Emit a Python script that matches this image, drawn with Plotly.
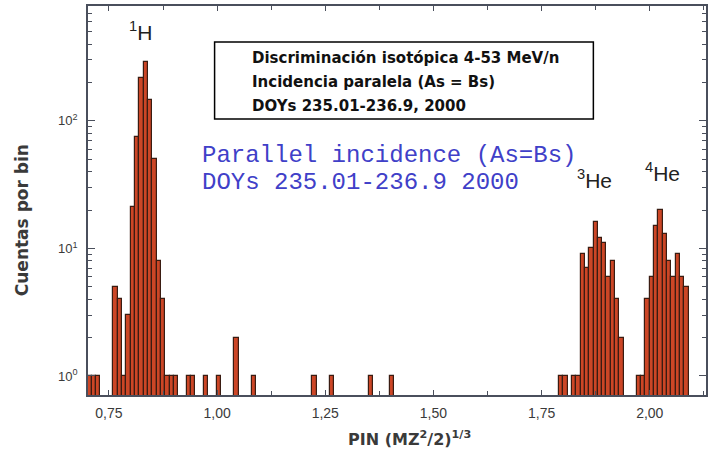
import plotly.graph_objects as go

# ---- data (bin left edges in PIN units, counts per bin) ----
bin_width = 0.01
bin_start = [0.70, 0.71, 0.72,
             0.76, 0.77, 0.78, 0.79, 0.80, 0.81, 0.82, 0.83, 0.84, 0.85, 0.86, 0.87,
             0.88, 0.89, 0.90, 0.93, 0.94, 0.97, 1.00, 1.04, 1.08,
             1.22, 1.26, 1.35, 1.40,
             1.79, 1.80, 1.82, 1.83,
             1.84, 1.85, 1.86, 1.87, 1.88, 1.89, 1.90, 1.91, 1.92, 1.93,
             1.97, 1.98,
             1.99, 2.00, 2.01, 2.02, 2.03, 2.04, 2.05, 2.06, 2.07, 2.08]
counts = [1, 1, 1,
          5, 4, 1, 3, 21, 75, 218, 290, 146, 50, 8, 4,
          1, 1, 1, 1, 1, 1, 1, 2, 1,
          1, 1, 1, 1,
          1, 1, 1, 1,
          9, 7, 10, 16, 12, 11, 6, 8, 4, 2,
          1, 1,
          4, 6, 15, 20, 13, 8, 6, 9, 6, 5]

x_tick_vals = [0.75, 1.00, 1.25, 1.50, 1.75, 2.00]
x_tick_text = ["0,75", "1,00", "1,25", "1,50", "1,75", "2,00"]
x_minor_vals = [0.875, 1.125, 1.375, 1.625, 1.875, 2.125]
y_tick_vals = [1, 10, 100]
y_tick_text = ["10<sup>0</sup>", "10<sup>1</sup>", "10<sup>2</sup>"]
y_minor_vals = [2, 3, 4, 5, 6, 7, 8, 9, 20, 30, 40, 50, 60, 70, 80, 90,
                200, 300, 400, 500, 600, 700]

box_lines = ["Discriminación isotópica 4-53 MeV/n",
             "Incidencia paralela (As = Bs)",
             "DOYs 235.01-236.9, 2000"]
blue_lines = ["Parallel incidence (As=Bs)",
              "DOYs 235.01-236.9 2000"]

AX = "#4a4f5c"
TXT = "#3a3a3a"
WIDE = "DejaVu Sans, Verdana, sans-serif"

fig = go.Figure()
fig.add_trace(go.Bar(
    x=bin_start, y=counts, width=bin_width, offset=0,
    marker=dict(color="#cc4626", line=dict(color="#3a1c12", width=1.2)),
    showlegend=False,
))

fig.update_layout(
    width=709, height=456,
    margin=dict(l=88, r=1, t=6, b=61),
    paper_bgcolor="white", plot_bgcolor="white",
    bargap=0,
    font=dict(family="Liberation Sans, Arial, sans-serif", size=14, color=TXT),
)

fig.update_xaxes(
    range=[0.7016, 2.130],
    tickvals=x_tick_vals, ticktext=x_tick_text,
    ticks="inside", ticklen=5, tickwidth=1.2, tickcolor=AX,
    minor=dict(tickvals=x_minor_vals, ticks="inside", ticklen=4, tickcolor=AX, tickwidth=1.2),
    showline=True, linecolor=AX, linewidth=1.5, mirror="ticks",
    showgrid=False, zeroline=False,
    tickfont=dict(size=14, color=TXT),
    ticklabelstandoff=4,
)
fig.update_yaxes(
    type="log", range=[-0.149, 2.90],
    tickvals=y_tick_vals, ticktext=y_tick_text,
    ticks="inside", ticklen=7, tickwidth=1.2, tickcolor=AX,
    minor=dict(tickvals=y_minor_vals, ticks="inside", ticklen=4, tickcolor=AX, tickwidth=1),
    showline=True, linecolor=AX, linewidth=1.5, mirror="ticks",
    showgrid=False, zeroline=False,
    tickfont=dict(size=13, color=TXT),
    ticklabelstandoff=6,
)

def px(xp):
    return (xp - 88) / 620.0

def py(yp):
    return (395 - yp) / 389.0

# framed info box
fig.add_shape(type="rect", xref="paper", yref="paper",
              x0=px(215), x1=px(595), y0=py(119), y1=py(42),
              line=dict(color="black", width=1.5), fillcolor="white")

for txt, yy in zip(box_lines, [58, 82, 106]):
    fig.add_annotation(xref="paper", yref="paper", x=px(251), y=py(yy),
                       text="<b>" + txt + "</b>", showarrow=False,
                       xanchor="left", yanchor="middle",
                       font=dict(size=15, color="#111111", family=WIDE))

for txt, yy in zip(blue_lines, [155, 182]):
    fig.add_annotation(xref="paper", yref="paper", x=px(200), y=py(yy),
                       text=txt, showarrow=False,
                       xanchor="left", yanchor="middle",
                       font=dict(size=24, color="#4040c8",
                                 family="Liberation Mono, Courier New, monospace"))

# isotope labels
iso_labels = [("<sup>1</sup>H", 141, 31), ("<sup>3</sup>He", 596, 179), ("<sup>4</sup>He", 664, 172)]
for txt, xx, yy in iso_labels:
    fig.add_annotation(xref="paper", yref="paper", x=px(xx), y=py(yy),
                       text=txt, showarrow=False, xanchor="center", yanchor="middle",
                       font=dict(size=21, color="#222222",
                                 family="Liberation Sans, Arial, sans-serif"))

# axis titles
fig.add_annotation(xref="paper", yref="paper", x=px(411), y=py(438),
                   text="<b>PIN (MZ<sup>2</sup>/2)<sup>1/3</sup></b>", showarrow=False,
                   xanchor="center", yanchor="middle",
                   font=dict(size=16, color=TXT, family=WIDE))
fig.add_annotation(xref="paper", yref="paper", x=px(22), y=py(220),
                   text="<b>Cuentas por bin</b>", showarrow=False, textangle=-90,
                   xanchor="center", yanchor="middle",
                   font=dict(size=17, color=TXT, family=WIDE))

fig.write_html("out.html", config={"displayModeBar": False},
               post_script="document.body.style.margin='0';")
